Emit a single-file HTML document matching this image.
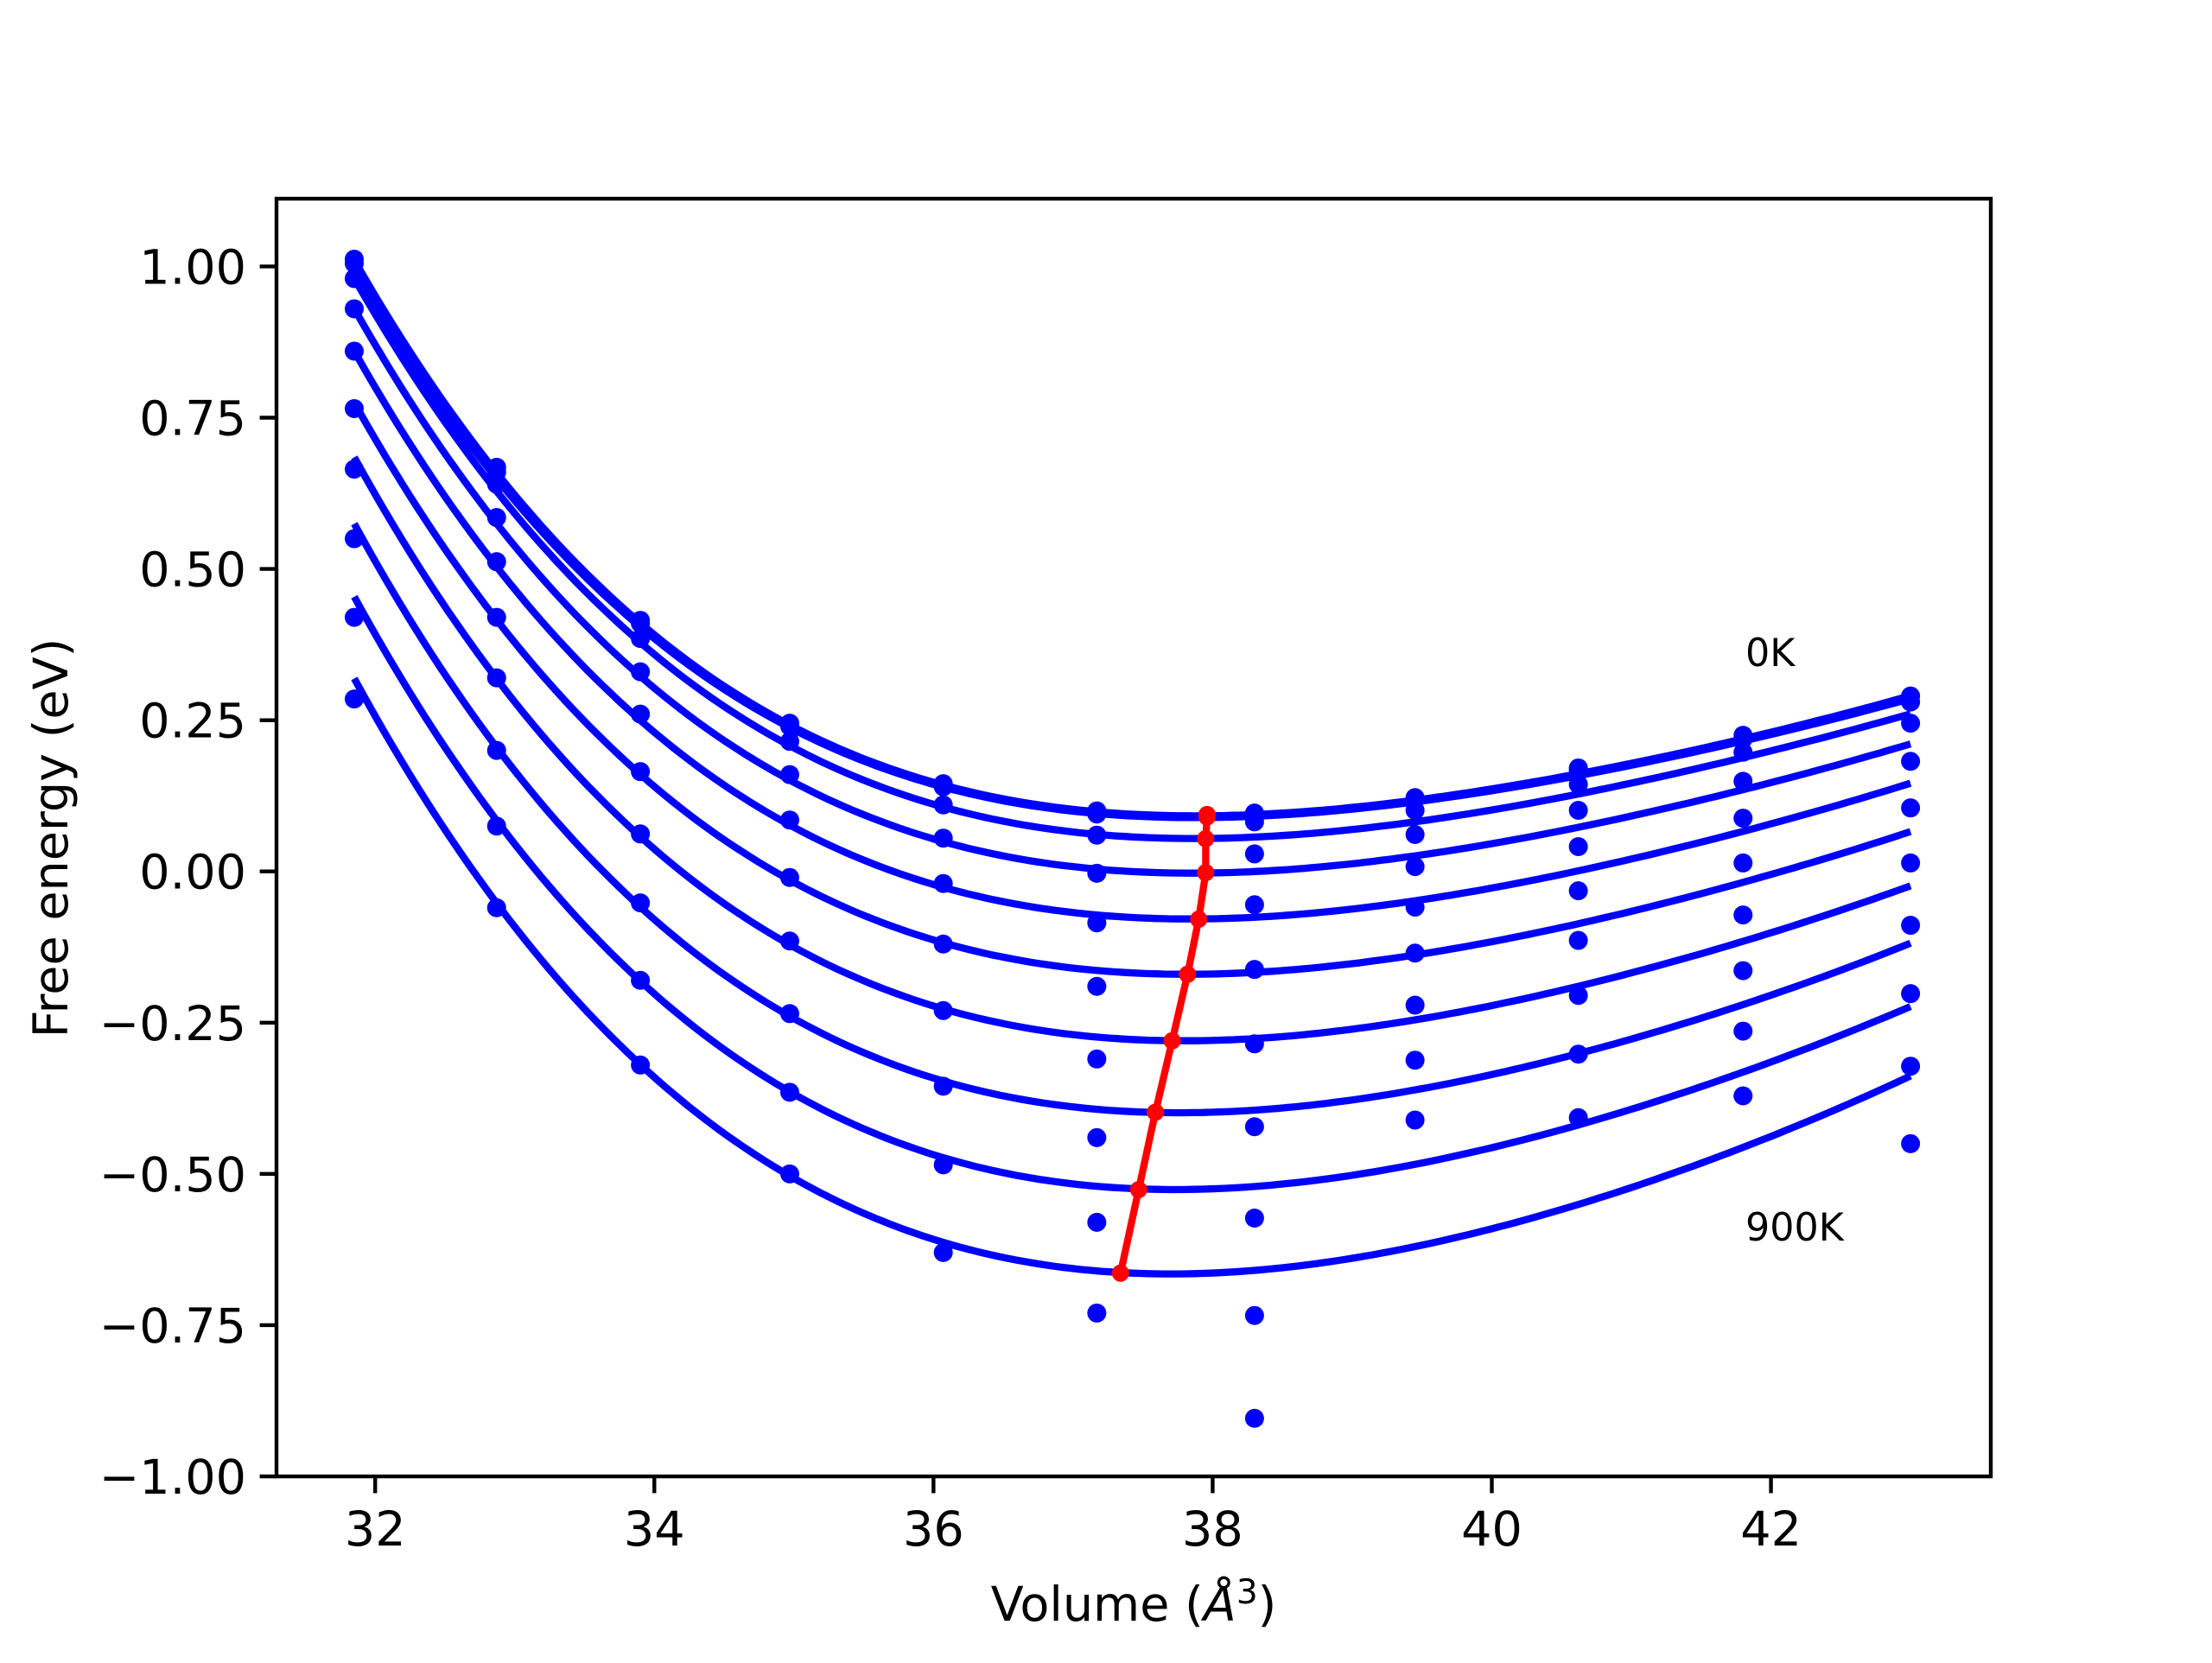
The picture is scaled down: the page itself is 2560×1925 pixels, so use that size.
<!DOCTYPE html>
<html><head><meta charset="utf-8"><style>
html,body{margin:0;padding:0;background:#fff}
svg text{font-family:"DejaVu Sans","Liberation Sans",sans-serif;fill:#000}
</style></head><body>
<svg id="chart" width="2560" height="1920" viewBox="0 0 2560 1920" xmlns="http://www.w3.org/2000/svg">
<rect width="2560" height="1920" fill="#fff"/>
<g id="plot"></g>
<g id="axes"></g>
<text x="2020" y="771" font-size="44.4">0K</text>
<text x="2020" y="1436" font-size="44.4">900K</text>
<text x="1312" y="1876" font-size="55.6" text-anchor="middle">Volume (<tspan font-style="italic">Å</tspan><tspan font-size="39" dy="-20">3</tspan><tspan dy="20">)</tspan></text>
<text transform="translate(78,970) rotate(-90)" font-size="55.6" text-anchor="middle">Free energy (eV)</text>
</svg>
<script>
const volumes = [31.85,32.87,33.9,34.97,36.07,37.17,38.3,39.45,40.62,41.8,43.0];
const dotCols = [
 [1.012,1.005,0.98,0.93,0.86,0.765,0.665,0.55,0.42,0.285],
 [0.668,0.66,0.64,0.585,0.512,0.42,0.32,0.20,0.075,-0.06],
 [0.415,0.41,0.385,0.33,0.26,0.165,0.062,-0.052,-0.18,-0.32],
 [0.245,0.24,0.215,0.16,0.085,-0.01,-0.115,-0.235,-0.365,-0.50],
 [0.145,0.14,0.11,0.055,-0.02,-0.12,-0.23,-0.355,-0.485,-0.63],
 [0.10,0.095,0.06,-0.003,-0.085,-0.19,-0.31,-0.44,-0.58,-0.73],
 [0.0965,0.082,0.029,-0.055,-0.162,-0.285,-0.422,-0.573,-0.734,-0.904],
 [0.122,0.119,0.101,0.061,0.008,-0.059,-0.135,-0.221,-0.312,-0.411],
 [0.171,0.167,0.144,0.101,0.041,-0.032,-0.114,-0.205,-0.302,-0.407],
 [0.225,0.219,0.197,0.149,0.088,0.014,-0.072,-0.164,-0.264,-0.371],
 [0.29,0.28,0.245,0.182,0.105,0.014,-0.089,-0.202,-0.322,-0.450]
];
const curveT0 = [1.01,0.660,0.412,0.240,0.140,0.100,0.094,0.112,0.162,0.221,0.29];
const curveT1 = [0.995,0.650,0.405,0.236,0.137,0.098,0.092,0.110,0.159,0.217,0.285];
const curveT2 = [0.98,0.629,0.379,0.206,0.105,0.065,0.059,0.078,0.129,0.189,0.26];
const curveT3 = [0.93,0.575,0.324,0.149,0.047,0.007,0.001,0.020,0.074,0.137,0.21];
const curveT4 = [0.86,0.504,0.250,0.075,-0.027,-0.068,-0.074,-0.053,0.002,0.068,0.145];
const curveT5 = [0.775,0.416,0.161,-0.016,-0.119,-0.160,-0.165,-0.144,-0.085,-0.016,0.065];
const curveT6 = [0.685,0.318,0.058,-0.123,-0.228,-0.269,-0.275,-0.252,-0.188,-0.113,-0.025];
const curveT7 = [0.575,0.205,-0.059,-0.241,-0.347,-0.389,-0.394,-0.369,-0.299,-0.217,-0.12];
const curveT8 = [0.455,0.083,-0.182,-0.365,-0.472,-0.514,-0.519,-0.492,-0.417,-0.328,-0.225];
const curveT9 = [0.32,-0.054,-0.320,-0.504,-0.612,-0.654,-0.658,-0.629,-0.548,-0.452,-0.34];
const curves = [curveT0,curveT1,curveT2,curveT3,curveT4,curveT5,curveT6,curveT7,curveT8,curveT9];
const minVol = [37.96,37.96,37.95,37.95,37.90,37.82,37.71,37.59,37.47,37.34];
const minE = [0.094,0.090,0.054,-0.002,-0.079,-0.170,-0.280,-0.398,-0.526,-0.664];
const xTicks = [32,34,36,38,40,42];
const yTicks = [-1.0,-0.75,-0.5,-0.25,0,0.25,0.5,0.75,1.0];
const yTickLabels = ["\u22121.00","\u22120.75","\u22120.50","\u22120.25","0.00","0.25","0.50","0.75","1.00"];

const L=320,R=2304,T=230,B=1709;
const xMin=31.293,xMax=43.575,yMin=-1.0,yMax=1.112;
const sx=v=>L+(v-xMin)/(xMax-xMin)*(R-L);
const sy=v=>B-(v-yMin)/(yMax-yMin)*(B-T);
const NS="http://www.w3.org/2000/svg";
const plot=document.getElementById('plot'), axes=document.getElementById('axes');
function mk(tag,attrs,parent){const e=document.createElementNS(NS,tag);for(const k in attrs)e.setAttribute(k,attrs[k]);parent.appendChild(e);return e;}

function polyfit(xs,ys,ws,deg){
  const n=deg+1, A=[], b=[];
  for(let i=0;i<n;i++){A.push(new Array(n).fill(0));b.push(0);}
  xs.forEach((x,k)=>{
    for(let i=0;i<n;i++){
      b[i]+=ws[k]*ys[k]*Math.pow(x,i);
      for(let j=0;j<n;j++)A[i][j]+=ws[k]*Math.pow(x,i+j);
    }
  });
  for(let i=0;i<n;i++){
    let p=i;for(let r=i+1;r<n;r++)if(Math.abs(A[r][i])>Math.abs(A[p][i]))p=r;
    [A[i],A[p]]=[A[p],A[i]];[b[i],b[p]]=[b[p],b[i]];
    for(let r=0;r<n;r++){if(r===i)continue;const f=A[r][i]/A[i][i];
      for(let c=i;c<n;c++)A[r][c]-=f*A[i][c];b[r]-=f*b[i];}
  }
  return b.map((v,i)=>v/A[i][i]);
}

// curves
curves.forEach((c,i)=>{
  const xs=volumes.map(v=>v-38), ys=c.slice(), ws=volumes.map(()=>1);
  xs.push(minVol[i]-38); ys.push(minE[i]); ws.push(3);
  const co=polyfit(xs,ys,ws,4);
  const f=v=>{const t=v-38;let s=0;for(let k=co.length-1;k>=0;k--)s=s*t+co[k];return s;};
  let d="";
  const v0=volumes[0], v1=volumes[volumes.length-1];
  for(let k=0;k<=200;k++){
    const v=v0+(v1-v0)*k/200;
    d+=(k?'L':'M')+sx(v).toFixed(1)+','+sy(f(v)).toFixed(1);
  }
  const el=mk('path',{d:d,fill:'none',stroke:'#0000ff','stroke-width':8.3,'stroke-linejoin':'round'},plot);
  
  
});
// dots
dotCols.forEach((col,j)=>{
  col.forEach((e,i)=>{
    const el=mk('circle',{cx:sx(volumes[j]),cy:sy(e),r:11,fill:'#0000ff'},plot);
    
    
  });
});
// red line
{
  const d=minVol.map((v,i)=>(i?'L':'M')+sx(v).toFixed(1)+','+sy(minE[i]).toFixed(1)).join('');
  const el=mk('path',{d:d,fill:'none',stroke:'#ff0000','stroke-width':8.3,'stroke-linejoin':'round'},plot);
  
  
  minVol.forEach((v,i)=>{
    const c=mk('circle',{cx:sx(v),cy:sy(minE[i]),r:10,fill:'#ff0000'},plot);
    
    
  });
}
// frame
{
  const f=mk('rect',{x:L,y:T,width:R-L,height:B-T,fill:'none',stroke:'#000','stroke-width':4.4},axes);
  
  
}
xTicks.forEach(t=>{
  const x=sx(t);
  const l=mk('line',{x1:x,x2:x,y1:B,y2:B+19.4,stroke:'#000','stroke-width':4.4},axes);
  
  
  const tx=mk('text',{x:x,y:B+80,'font-size':55.6,'text-anchor':'middle'},axes);
  tx.textContent=String(t);
  
  
});
yTicks.forEach((t,i)=>{
  const y=sy(t);
  const l=mk('line',{x1:L-19.4,x2:L,y1:y,y2:y,stroke:'#000','stroke-width':4.4},axes);
  
  
  const tx=mk('text',{x:L-35,y:y+20,'font-size':55.6,'text-anchor':'end'},axes);
  tx.textContent=yTickLabels[i];
  
  
});
</script>
</body></html>
